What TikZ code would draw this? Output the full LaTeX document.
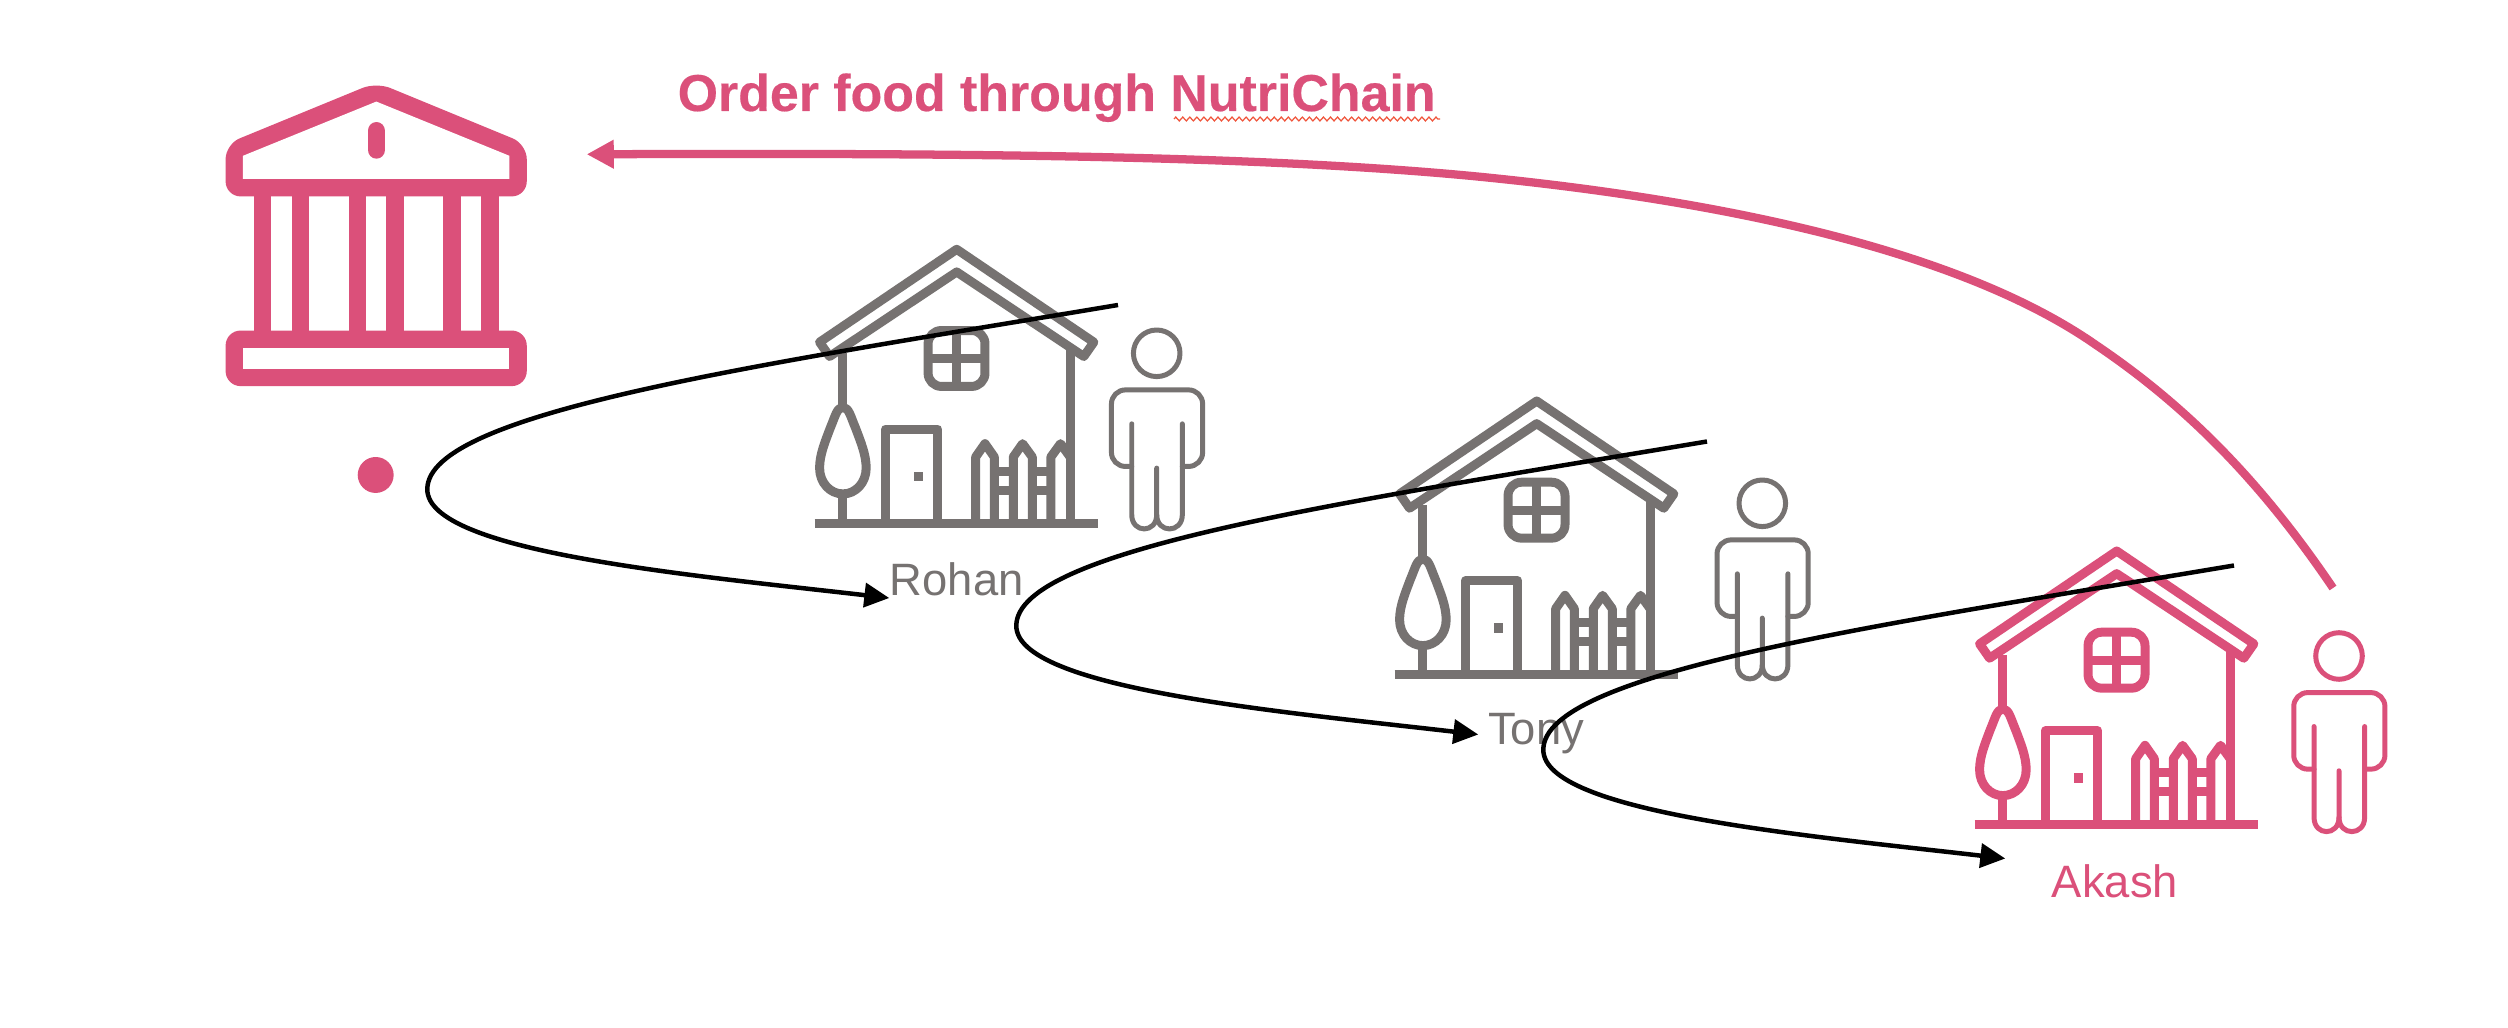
\documentclass[tikz,border=0pt]{standalone}
\usepackage{fontspec}
\setmainfont{Liberation Sans}
\usetikzlibrary{arrows.meta,decorations.pathmorphing}
\definecolor{pinkc}{RGB}{219,80,122}
\definecolor{grayc}{RGB}{118,114,113}
\definecolor{squig}{RGB}{240,85,60}
\tikzset{
  zunits/.style={x=0.0033333cm,y=-0.0033333cm},
  hstroke/.style={line width=2.56pt,line join=round},
  pstroke/.style={line width=1.42pt,line join=round,line cap=round},
  bstroke/.style={line width=5.03pt,line join=round},
  flow/.style={draw=black,line width=1.28pt,-{Triangle[length=7.1pt,width=6.8pt]}},
  backflow/.style={draw=pinkc,line width=2.35pt,-{Triangle[length=7.7pt,width=7.7pt]}},
  lab/.style={anchor=base,font=\fontsize{12.9pt}{15pt}\selectfont,inner sep=0pt},
}
\newcommand{\HouseIcon}[3]{%
\begin{scope}[shift={(#1,#2)},zunits,shift={(-530,-72)},hstroke,draw=#3]
  \draw (103,911) -- (955,911);
  \draw (530,88) -- (118,367) -- (148,410) -- (530,156) -- (912,410) -- (942,367) -- cycle;
  \draw (188,400) -- (188,560);
  \draw (871,380) -- (871,900);
  \draw[rounded corners=1.33mm] (444,332) rectangle (615,500);
  \draw (530,332) -- (530,500);
  \draw (444,416) -- (615,416);
  \draw (316,900) -- (316,628) -- (473,628) -- (473,900);
  \fill[#3] (402,756) rectangle (430,785);
  \draw (188,825) -- (188,900);
  \draw (188,563) .. controls (170,563) and (165,590) .. (150,625)
    .. controls (135,665) and (118,705) .. (118,745)
    .. controls (118,790) and (150,823) .. (188,823)
    .. controls (226,823) and (258,790) .. (258,745)
    .. controls (258,705) and (241,665) .. (226,625)
    .. controls (211,590) and (206,563) .. (188,563) -- cycle;
  \draw (587,900) -- (587,712) -- (615,672) -- (643,712) -- (643,900);
  \draw (700,900) -- (700,712) -- (728,672) -- (757,712) -- (757,900);
  \draw (813,900) -- (813,712) -- (842,672) -- (871,712);
  \draw (643,755) -- (700,755);
  \draw (643,812) -- (700,812);
  \draw (757,755) -- (813,755);
  \draw (757,812) -- (813,812);
\end{scope}}
\newcommand{\PersonIcon}[3]{%
\begin{scope}[shift={(#1,#2)},zunits,shift={(-1130,-400)},pstroke,draw=#3]
  \draw (1130,400) circle (70);
  \draw[rounded corners=1.4mm] (1055,740) -- (994,740) -- (994,510) -- (1268,510) -- (1268,740) -- (1207,740);
  \draw (1055,612) -- (1055,885) .. controls (1055,942) and (1130,942) .. (1130,885) -- (1130,745);
  \draw (1207,612) -- (1207,885) .. controls (1207,942) and (1130,942) .. (1130,885);
\end{scope}}
\newcommand{\FlowCurve}[3]{%
\begin{scope}[shift={(#2,#3)}]
  \coordinate (#1start) at (1118,305);
  \coordinate (#1turn) at (427.3,489.3);
  \coordinate (#1end) at (889.3,598);
  \draw[flow] (#1start) .. controls (760,365) and (427.3,412) .. (#1turn)
     .. controls (427.3,552) and (690,575) .. (#1end);
\end{scope}}
\begin{document}
\begin{tikzpicture}[x=0.01cm,y=-0.01cm]
\useasboundingbox[fill=white] (0,0) rectangle (2508,1028);
% bank
\begin{scope}[shift={(180,50)},zunits,bstroke,draw=pinkc]
  \fill[pinkc,rounded corners=1.5mm] (590,97) -- (1042,283) -- (1042,440) -- (137,440) -- (137,283) -- cycle;
  \fill[white] (590,155) -- (990,318) -- (990,387) -- (189,387) -- (189,318) -- cycle;
  \draw[line cap=round] (590,243) -- (590,300);
  \fill[pinkc,rounded corners=1.5mm] (137,843) rectangle (1042,1010);
  \fill[white] (189,895) rectangle (990,958);
  \foreach \cx in {248,362,533,647,817,931} \draw (\cx,413) -- (\cx,869);
  \fill[pinkc] (588,1277) circle (54);
\end{scope}
\HouseIcon{956.7}{244}{grayc}
\PersonIcon{1156.7}{353.3}{grayc}
\HouseIcon{1536.7}{395.7}{grayc}
\PersonIcon{1762.3}{503.3}{grayc}
\HouseIcon{2116.7}{545.7}{pinkc}
\PersonIcon{2339}{656}{pinkc}
\node[lab,text=grayc] (rohan) at (956.7,595.7) {Rohan};
\node[lab,text=grayc] (tony) at (1536,745) {Tony};
\node[lab,text=pinkc] (akash) at (2115,897.7) {Akash};
\node[anchor=base west,inner sep=0pt,text=pinkc,font=\bfseries\fontsize{14.75pt}{18pt}\selectfont\addfontfeature{FakeBold=0.35}] (title) at (677,111) {Order food through NutriChain};
\coordinate (squigL) at (1174,119);
\coordinate (squigR) at (1440,119);
\draw[squig,line width=0.35pt,decorate,decoration={zigzag,segment length=2pt,amplitude=0.55pt}] (squigL) -- (squigR);
\coordinate (backstart) at (2333,588);
\coordinate (backend) at (586.7,154.3);
\draw[backflow] (backstart) .. controls (2260,480) and (2185,405) .. (2096,345)
  .. controls (1960,250) and (1720,200) .. (1472,176)
  .. controls (1250,155) and (950,153) .. (backend);
\FlowCurve{a}{0}{0}
\FlowCurve{b}{589}{136.5}
\FlowCurve{c}{1116}{260.5}
\end{tikzpicture}
\end{document}
